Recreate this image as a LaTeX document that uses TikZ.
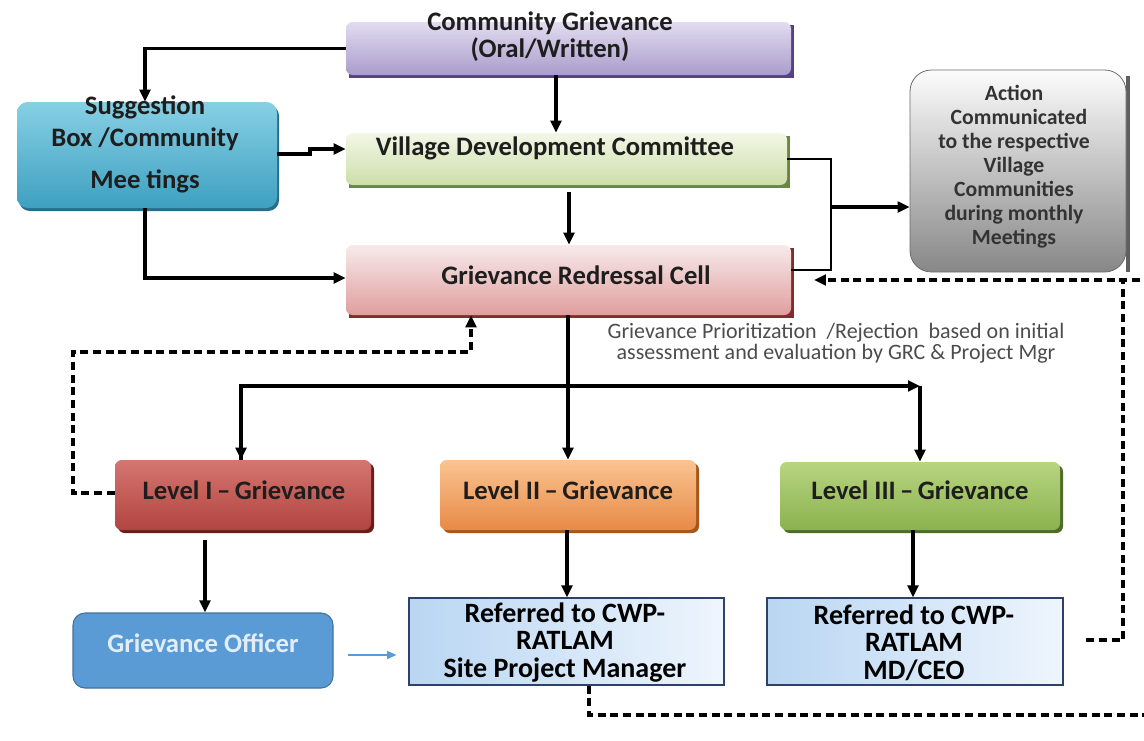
\documentclass[tikz,border=0pt]{standalone}
\usepackage{fontspec}
\setmainfont{Carlito}
\usetikzlibrary{arrows.meta}
\definecolor{cgT}{RGB}{226,220,240}
\definecolor{cgB}{RGB}{170,156,204}
\definecolor{cgD}{RGB}{85,65,135}
\definecolor{sgT}{RGB}{135,208,228}
\definecolor{sgB}{RGB}{62,160,192}
\definecolor{sgD}{RGB}{40,110,140}
\definecolor{vdT}{RGB}{242,247,230}
\definecolor{vdB}{RGB}{205,222,170}
\definecolor{vdD}{RGB}{105,135,65}
\definecolor{grT}{RGB}{248,234,234}
\definecolor{grB}{RGB}{224,158,158}
\definecolor{grD}{RGB}{130,45,45}
\definecolor{acT}{RGB}{252,252,252}
\definecolor{acB}{RGB}{135,135,135}
\definecolor{l1T}{RGB}{212,118,112}
\definecolor{l1B}{RGB}{178,68,64}
\definecolor{l1D}{RGB}{105,30,30}
\definecolor{l2T}{RGB}{250,196,146}
\definecolor{l2B}{RGB}{232,138,70}
\definecolor{l2D}{RGB}{165,88,30}
\definecolor{l3T}{RGB}{184,212,128}
\definecolor{l3B}{RGB}{138,178,78}
\definecolor{l3D}{RGB}{78,108,40}
\definecolor{goF}{RGB}{91,155,213}
\definecolor{goD}{RGB}{65,113,156}
\definecolor{goText}{RGB}{225,238,250}
\definecolor{rfL}{RGB}{185,214,242}
\definecolor{rfR}{RGB}{238,245,253}
\definecolor{rfD}{RGB}{45,65,105}
\definecolor{txt}{RGB}{30,30,30}
\begin{document}
\begin{tikzpicture}[x=0.75pt,y=-0.75pt,
  box/.style={rounded corners=5pt, inner sep=0pt, draw=none},
  ttl/.style={font=\bfseries\fontsize{20}{24}\selectfont, text=txt, align=center, inner sep=0pt},
  arr/.style={-{Triangle[length=9pt,width=8pt]}, line width=2.6pt},
  dsh/.style={line width=2.4pt, dash pattern=on 6pt off 3.5pt},
  thinln/.style={line width=1.2pt}]
\useasboundingbox (0,0) rectangle (1144,740);
% shadows
\fill[cgD] (349,25) rectangle (794,78);
\fill[vdD] (349,136) rectangle (790,188);
\fill[grD] (349,248) rectangle (794,318);
\fill[acB!70!black] (1126,76) rectangle (1130,272);
\fill[l1D,rounded corners=5pt] (118,463) rectangle (374,533);
\fill[l2D,rounded corners=5pt] (443,463) rectangle (699,533);
\fill[l3D,rounded corners=5pt] (783,465) rectangle (1063,533);
\fill[sgD,rounded corners=8pt] (19,105) rectangle (279,211);
% boxes
\node[box, top color=cgT, bottom color=cgB, minimum width={445*0.75pt}, minimum height={53*0.75pt}] (cg) at (568.5,48.5) {};
\node[box, rounded corners=8pt, top color=sgT, bottom color=sgB, minimum width={260*0.75pt}, minimum height={106*0.75pt}] (sugg) at (147,155) {};
\node[box, top color=vdT, bottom color=vdB, minimum width={441*0.75pt}, minimum height={52*0.75pt}] (vdc) at (566.5,159) {};
\node[box, top color=grT, bottom color=grB, minimum width={445*0.75pt}, minimum height={70*0.75pt}] (grc) at (568.5,280) {};
\node[box, rounded corners=16pt, draw=acB!80!black, line width=0.6pt, top color=acT, bottom color=acB, minimum width={216*0.75pt}, minimum height={202*0.75pt}] (act) at (1018,171) {};
\node[box, top color=l1T, bottom color=l1B, minimum width={256*0.75pt}, minimum height={70*0.75pt}] (l1) at (243,495) {};
\node[box, top color=l2T, bottom color=l2B, minimum width={256*0.75pt}, minimum height={70*0.75pt}] (l2) at (568,495) {};
\node[box, top color=l3T, bottom color=l3B, minimum width={280*0.75pt}, minimum height={68*0.75pt}] (l3) at (920,496) {};
\node[box, rounded corners=9pt, fill=goF, draw=goD, line width=0.8pt, minimum width={260*0.75pt}, minimum height={75*0.75pt}] (go) at (203,650.5) {};
\node[box, rounded corners=0pt, left color=rfL, right color=rfR, draw=rfD, line width=0.8pt, minimum width={315*0.75pt}, minimum height={87*0.75pt}] (spm) at (566.5,641.5) {};
\node[box, rounded corners=0pt, left color=rfL, right color=rfR, draw=rfD, line width=0.8pt, minimum width={296*0.75pt}, minimum height={87*0.75pt}] (md) at (915,641.5) {};
% texts
\node[ttl, font=\bfseries\fontsize{20}{20}\selectfont] (cgt) at (550,36.5) {Community Grievance\\(Oral/Written)};
\node[ttl, font=\bfseries\fontsize{20}{24}\selectfont] (sgt) at (145,144.5) {Suggestion\\Box /Community\\[8pt]Mee tings};
\node[ttl] (vdt) at (555,148) {Village Development Committee};
\node[ttl] (grt) at (576,275) {Grievance Redressal Cell};
\node[ttl, font=\bfseries\fontsize{16.3}{18}\selectfont, text=black!80] (act-t) at (1014,167) {Action\\\ \ Communicated\\to the respective\\Village\\Communities\\during monthly\\Meetings};
\node[ttl] (l1t) at (244,490) {Level I\,–\,Grievance};
\node[ttl] (l2t) at (568,490) {Level II\,–\,Grievance};
\node[ttl] (l3t) at (920,490) {Level III\,–\,Grievance};
\node[ttl, text=goText] (got) at (203,643) {Grievance Officer};
\node[ttl, font=\bfseries\fontsize{21}{20.6}\selectfont, text=black] (spmt) at (565,642.5) {Referred to CWP-\\RATLAM\\Site Project Manager};
\node[ttl, font=\bfseries\fontsize{21}{20.6}\selectfont, text=black] (mdt) at (914,642.5) {Referred to CWP-\\RATLAM\\MD/CEO};
\node[ttl, font=\fontsize{16.5}{16}\selectfont, text=black!70] (prio) at (836,343.5) {Grievance Prioritization \ /Rejection \ based on initial\\assessment and evaluation by GRC \& Project Mgr};
% connectors
\draw[arr] (cg.west) -| (145,0 |- sugg.north);
\draw[arr] (556,0 |- cg.south) -- (556,0 |- vdc.north);
\draw[arr, shorten <=5pt] (569,0 |- vdc.south) -- (569,0 |- grc.north);
\draw[arr] (sugg.east |- 0,154) -- (310,154) -- (310,149) -- (vdc.west |- 0,149);
\draw[arr] (145,0 |- sugg.south) |- (grc.west |- 0,278);
\draw[thinln] (vdc.east |- 0,159) -| (831,270) -- (grc.east |- 0,270);
\coordinate (jn) at (831,207);
\draw[arr] (jn) -- (act.west |- jn);
\coordinate (br) at (568,386);
\draw[line width=2.6pt] (568,0 |- grc.south) -- (br);
\draw[line width=2.6pt] (br) -| (241,0 |- l1.north);
\draw[arr] (241,386) -- (241,0 |- l1.north);
\draw[arr] (br) -- (920,386);
\draw[arr] (920,386) -- (920,0 |- l3.north);
\draw[arr] (br) -- (568,0 |- l2.north);
\draw[dsh, -{Triangle[length=9pt,width=8pt]}] (l1.west |- 0,493) -| (73,352) -| (471,0 |- grc.south);
\draw[arr, shorten <=7pt] (205,0 |- l1.south) -- (205,0 |- go.north);
\draw[arr] (567,0 |- l2.south) -- (567,0 |- spm.north);
\draw[arr] (913,0 |- l3.south) -- (913,0 |- md.north);
\draw[-{Triangle[length=7pt,width=6pt]}, line width=1.1pt, color=goF, shorten <=11pt, shorten >=9pt] (go.east |- 0,655) -- (spm.west |- 0,655);
\coordinate (rc) at (1123,280);
\coordinate (rc2) at (1140,280);
\draw[dsh, shorten <=17pt] (md.east |- 0,640) -| (rc);
\draw[dsh, -{Triangle[length=9pt,width=8pt]}, shorten >=17pt] (rc2) -- (grc.east |- 0,280);
\coordinate (edge) at (1144,715);
\draw[dsh] (589,0 |- spm.south) |- (edge);
\end{tikzpicture}
\end{document}
